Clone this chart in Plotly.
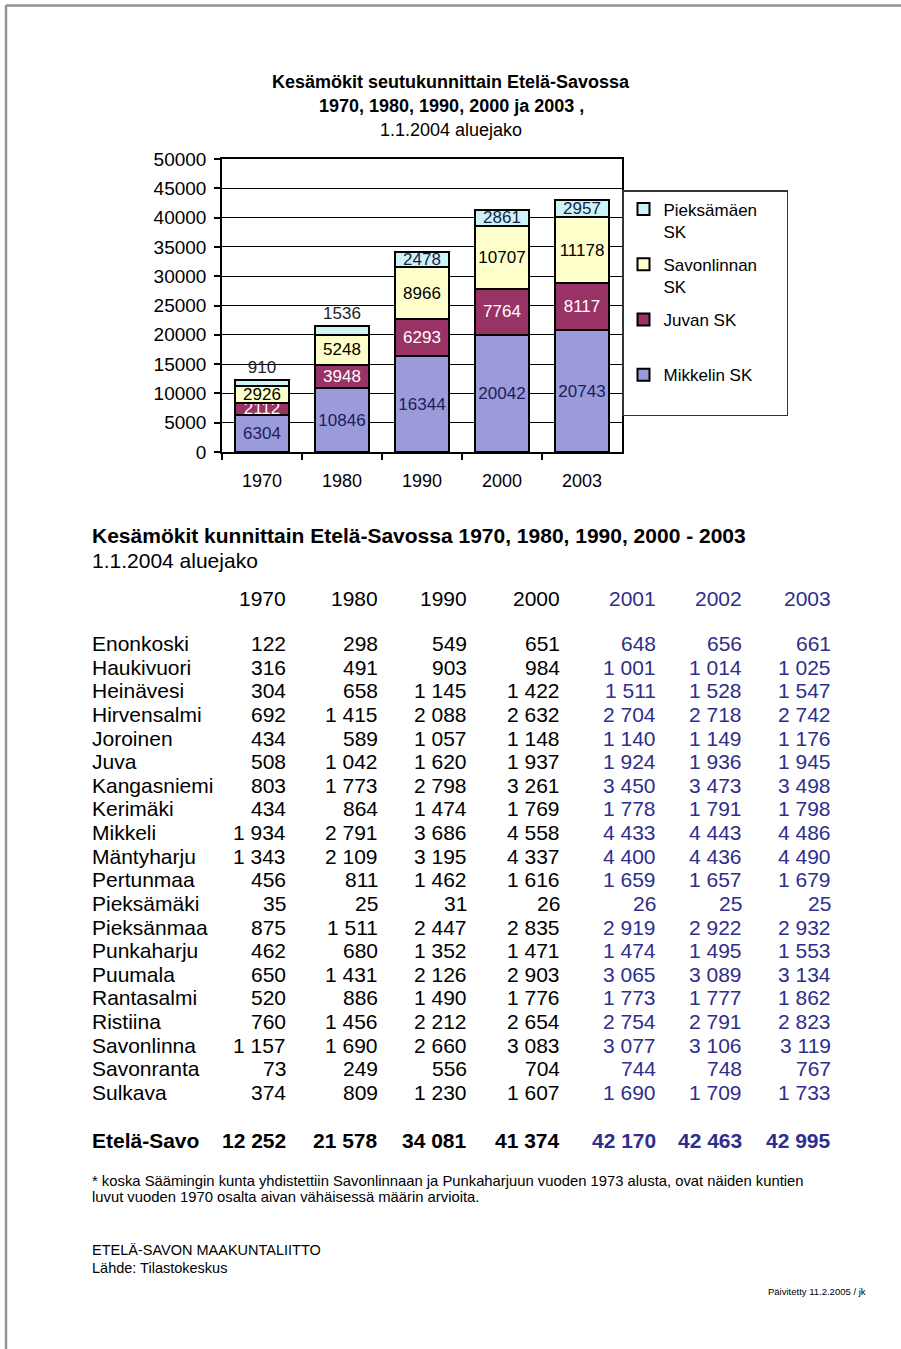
import plotly.graph_objects as go

W, H = 901, 1349
FONT = "Liberation Sans, Arial, sans-serif"

# ---------------- chart data ----------------
years = ["1970", "1980", "1990", "2000", "2003"]
mikkelin_sk = [6304, 10846, 16344, 20042, 20743]
juvan_sk = [2112, 3948, 6293, 7764, 8117]
savonlinnan_sk = [2926, 5248, 8966, 10707, 11178]
pieksamaen_sk = [910, 1536, 2478, 2861, 2957]

# ---------------- table data ----------------
table_years = ["1970", "1980", "1990", "2000", "2001", "2002", "2003"]
municipalities = ["Enonkoski", "Haukivuori", "Heinävesi", "Hirvensalmi", "Joroinen",
                  "Juva", "Kangasniemi", "Kerimäki", "Mikkeli", "Mäntyharju",
                  "Pertunmaa", "Pieksämäki", "Pieksänmaa", "Punkaharju", "Puumala",
                  "Rantasalmi", "Ristiina", "Savonlinna", "Savonranta", "Sulkava"]
v1970 = [122, 316, 304, 692, 434, 508, 803, 434, 1934, 1343, 456, 35, 875, 462, 650, 520, 760, 1157, 73, 374]
v1980 = [298, 491, 658, 1415, 589, 1042, 1773, 864, 2791, 2109, 811, 25, 1511, 680, 1431, 886, 1456, 1690, 249, 809]
v1990 = [549, 903, 1145, 2088, 1057, 1620, 2798, 1474, 3686, 3195, 1462, 31, 2447, 1352, 2126, 1490, 2212, 2660, 556, 1230]
v2000 = [651, 984, 1422, 2632, 1148, 1937, 3261, 1769, 4558, 4337, 1616, 26, 2835, 1471, 2903, 1776, 2654, 3083, 704, 1607]
v2001 = [648, 1001, 1511, 2704, 1140, 1924, 3450, 1778, 4433, 4400, 1659, 26, 2919, 1474, 3065, 1773, 2754, 3077, 744, 1690]
v2002 = [656, 1014, 1528, 2718, 1149, 1936, 3473, 1791, 4443, 4436, 1657, 25, 2922, 1495, 3089, 1777, 2791, 3106, 748, 1709]
v2003 = [661, 1025, 1547, 2742, 1176, 1945, 3498, 1798, 4486, 4490, 1679, 25, 2932, 1553, 3134, 1862, 2823, 3119, 767, 1733]
total_label = "Etelä-Savo"
totals = [12252, 21578, 34081, 41374, 42170, 42463, 42995]


def px(x):
    return x / W


def py(y):
    return 1 - y / H


def fmt(v):
    return f"{v:,}".replace(",", "\u00a0")


# ---------------- styles ----------------
C_MIK = "#9b9bd9"
C_JUV = "#993366"
C_SAV = "#ffffcc"
C_PIE = "#ccf4f6"
pie_textpos = ["outside", "outside", "inside", "inside", "inside"]
NB = "\u00a0"

fig = go.Figure()

series = [
    ("Mikkelin SK<br>" + NB, mikkelin_sk, C_MIK, "#1c1c5e", "inside", 4),
    ("Juvan SK<br>" + NB, juvan_sk, C_JUV, "white", "inside", 3),
    ("Savonlinnan" + NB * 5 + "<br>SK", savonlinnan_sk, C_SAV, "black", "inside", 2),
    ("Pieksämäen<br>SK", pieksamaen_sk, C_PIE, "#1c1c4a", pie_textpos, 1),
]
for i, (name, vals, col, tcol, tpos, rank) in enumerate(series):
    fig.add_trace(go.Bar(
        x=years, y=vals, name=name, legendgroup=f"g{i}", legendrank=rank,
        marker=dict(color=col, line=dict(color="black", width=2)),
        text=[str(v) for v in vals], textposition=tpos,
        insidetextanchor="middle", textangle=0, constraintext="none",
        textfont=dict(family=FONT, size=17, color=tcol),
        outsidetextfont=dict(family=FONT, size=17, color="#222222"),
        cliponaxis=False,
        hoverinfo="x+y+name",
    ))

annotations = []


def txt(x, y, s, size=21, anchor="left", bold=False, color="black"):
    if bold:
        s = f"<b>{s}</b>"
    annotations.append(dict(
        x=px(x), y=py(y), xref="paper", yref="paper", text=s, showarrow=False,
        xanchor=anchor, yanchor="middle",
        font=dict(family=FONT, size=size, color=color),
    ))


LEFT = 90

# chart title
txt(451, 82, "Kesämökit seutukunnittain Etelä-Savossa", size=18, anchor="center", bold=True)
txt(451, 106, "1970, 1980, 1990, 2000 ja 2003 ,", size=18, anchor="center", bold=True)
txt(451, 130, "1.1.2004 aluejako", size=18, anchor="center")

# table
txt(LEFT, 536, "Kesämökit kunnittain Etelä-Savossa 1970, 1980, 1990, 2000 - 2003", size=21, bold=True)
txt(LEFT, 560, "1.1.2004 aluejako", size=21)

col_right = [288, 380, 469, 562, 658, 744, 833]
col_color = ["black"] * 4 + ["#2e2e8c"] * 3
row0, pitch = 643.5, 23.63

for c, yr in enumerate(table_years):
    txt(col_right[c], 598, yr, anchor="right", color=col_color[c])

columns = [v1970, v1980, v1990, v2000, v2001, v2002, v2003]
for r, name in enumerate(municipalities):
    y = row0 + r * pitch
    txt(LEFT, y, name)
    for c, col in enumerate(columns):
        txt(col_right[c], y, fmt(col[r]), anchor="right", color=col_color[c])

txt(LEFT, 1140, total_label, bold=True)
for c, v in enumerate(totals):
    txt(col_right[c], 1140, fmt(v), anchor="right", bold=True, color=col_color[c])

txt(LEFT, 1181, "* koska Säämingin kunta yhdistettiin Savonlinnaan ja Punkaharjuun vuoden 1973 alusta, ovat näiden kuntien", size=14.8)
txt(LEFT, 1197, "luvut vuoden 1970 osalta aivan vähäisessä määrin arvioita.", size=14.8)
txt(LEFT, 1250, "ETELÄ-SAVON MAAKUNTALIITTO", size=14.5)
txt(LEFT, 1268, "Lähde: Tilastokeskus", size=14.5)
txt(868, 1291, "Päivitetty 11.2.2005 / jk", size=9.5, anchor="right")

shapes = [
    dict(type="line", xref="paper", yref="paper", x0=px(6), x1=1, y0=py(5.5), y1=py(5.5),
         line=dict(color="#939393", width=2.5)),
    dict(type="line", xref="paper", yref="paper", x0=px(6), x1=px(6), y0=py(5), y1=0,
         line=dict(color="#939393", width=2.5)),
]

fig.update_layout(
    width=W, height=H, autosize=False,
    margin=dict(l=0, r=0, t=0, b=0, pad=0, autoexpand=False),
    paper_bgcolor="white", plot_bgcolor="white",
    barmode="stack", bargap=0.32,
    font=dict(family=FONT, color="black"),
    uniformtext=dict(minsize=17, mode="show"),
    showlegend=True,
    legend=dict(
        x=px(622), y=py(190), xanchor="left", yanchor="top",
        bgcolor="white", bordercolor="#333333", borderwidth=1.5,
        font=dict(family=FONT, size=17, color="black"),
        traceorder="grouped", tracegroupgap=8, valign="top",
        itemwidth=30,
    ),
    xaxis=dict(
        domain=[px(222), px(622)], type="category", automargin=False,
        showline=True, linecolor="black", linewidth=1.5, mirror=True,
        ticks="outside", tickson="boundaries", ticklen=6, tickwidth=1.5, tickcolor="black",
        tickfont=dict(family=FONT, size=18, color="black"), ticklabelstandoff=12,
        showgrid=False, fixedrange=True,
    ),
    yaxis=dict(
        domain=[py(452), py(159)], range=[0, 50000], dtick=5000, tickformat="d",
        automargin=False,
        showline=True, linecolor="black", linewidth=1.5, mirror=True,
        ticks="outside", ticklen=6, tickwidth=1.5, tickcolor="black",
        tickfont=dict(family=FONT, size=19, color="black"), ticklabelstandoff=4,
        showgrid=True, gridcolor="black", gridwidth=1.3, zeroline=False, fixedrange=True,
    ),
    annotations=annotations,
    shapes=shapes,
)

fig.write_html("out.html", config={"displayModeBar": False},
               post_script="document.body.style.margin='0';")
